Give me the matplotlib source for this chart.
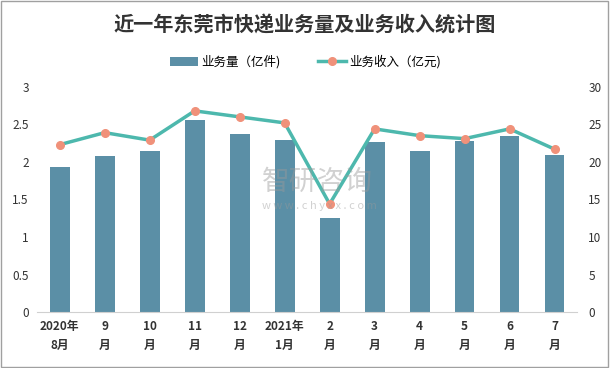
import numpy as np
import matplotlib
matplotlib.use('Agg')
import matplotlib.pyplot as plt
from matplotlib.patches import Rectangle

plt.rcParams['font.family'] = ['Noto Sans CJK SC', 'DejaVu Sans']

months = ['2020年\n8月', '9\n月', '10\n月', '11\n月', '12\n月', '2021年\n1月',
          '2\n月', '3\n月', '4\n月', '5\n月', '6\n月', '7\n月']
volume = [1.93, 2.08, 2.15, 2.56, 2.37, 2.29, 1.25, 2.26, 2.15, 2.28, 2.34, 2.09]
revenue = [22.3, 23.9, 22.9, 26.8, 26.0, 25.2, 14.4, 24.4, 23.5, 23.1, 24.4, 21.7]

bar_color = '#5b8fa6'
line_color = '#4db8ad'
dot_color = '#f0917a'

fig = plt.figure(figsize=(6.1, 3.68), dpi=100)
fig.patches.append(Rectangle((0.002, 0.003), 0.995, 0.994, transform=fig.transFigure,
                             fill=False, edgecolor='#a0a0a0', linewidth=1))

ax = fig.add_axes([0.061, 0.152, 0.885, 0.612])
x = np.arange(len(months))
bars = ax.bar(x, volume, width=0.44, color=bar_color, label='业务量（亿件)', zorder=2)
ax.set_ylim(0, 3)
ax.set_xlim(-0.5, len(months) - 0.5)
ax.set_yticks([0, 0.5, 1, 1.5, 2, 2.5, 3])
ax.set_yticklabels(['0', '0.5', '1', '1.5', '2', '2.5', '3'])
ax.set_xticks(x)
ax.set_xticklabels(months, fontweight='bold', fontsize=8.5, linespacing=1.6)

ax2 = ax.twinx()
line, = ax2.plot(x, revenue, color=line_color, linewidth=2.5, marker='o',
                 markersize=5.5, markerfacecolor=dot_color, markeredgecolor=dot_color,
                 label='业务收入（亿元)', zorder=3)
ax2.set_ylim(0, 30)
ax2.set_yticks([0, 5, 10, 15, 20, 25, 30])

for a in (ax, ax2):
    for s in ['top', 'left', 'right']:
        a.spines[s].set_visible(False)
    a.tick_params(length=0, labelsize=8.5, colors='#333333')
ax.spines['bottom'].set_color('#d0d0d0')
ax2.spines['bottom'].set_visible(False)
ax.tick_params(axis='y', pad=6)
ax2.tick_params(axis='y', pad=8)
ax.tick_params(axis='x', pad=6)

# watermark
fig.text(0.43, 0.505, '智研咨询', fontsize=20, color='#9a9a9a', alpha=0.45, ha='left', va='center')
fig.text(0.43, 0.44, 'w w w . c h y x x . c o m', fontsize=8, color='#9a9a9a', alpha=0.45,
         ha='left', va='center')

fig.text(0.5, 0.932, '近一年东莞市快递业务量及业务收入统计图', ha='center', va='center',
         fontsize=14.5, fontweight='bold', color='#333333')
fig.legend([bars, line], ['业务量（亿件)', '业务收入（亿元)'], loc='center',
           bbox_to_anchor=(0.5, 0.832), ncol=2, frameon=False, fontsize=9,
           handlelength=2.3, columnspacing=3, handletextpad=0.2)

fig.savefig('out.png', dpi=100)
